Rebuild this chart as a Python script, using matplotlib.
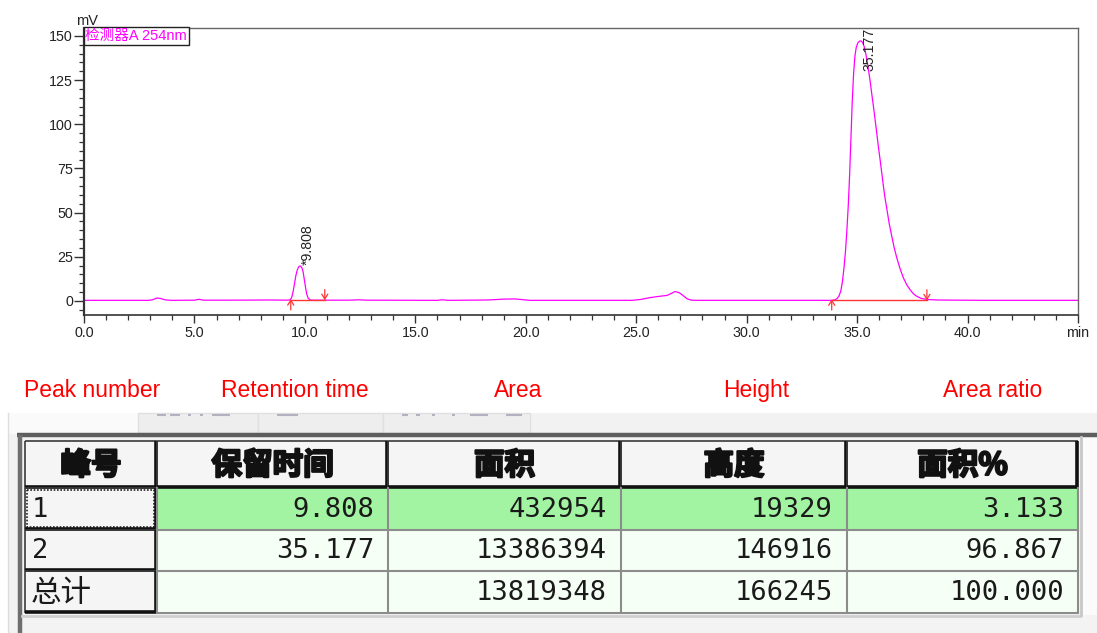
import matplotlib
matplotlib.use("Agg")
import matplotlib.pyplot as plt
import matplotlib.patheffects as pe
from matplotlib.patches import Rectangle
from matplotlib.ticker import MultipleLocator

plt.rcParams["font.family"] = ["Liberation Sans", "Noto Sans CJK SC"]

# peak table (detector A, 254 nm)
peak_no = ["1", "2", "总计"]
peak_rt = [9.808, 35.177]                 # min
peak_area = [432954, 13386394]
peak_height = [19329, 146916]             # uV
peak_area_pct = [3.133, 96.867]
total_area = 13819348
total_height = 166245
total_pct = 100.000

# integration marks: start / end of each peak (min)
peak_start = [9.36, 33.85]
peak_end = [10.90, 38.16]
peak_base = [0.4, 0.3]                    # mV

col_titles = ["峰号", "保留时间", "面积", "高度", "面积%"]
col_names_en = ["Peak number", "Retention time", "Area", "Height", "Area ratio"]

# detector trace (min, mV), apex points come from the peak table
trace_t = [0.0, 2.9, 3.1, 3.3, 3.45, 3.7, 4.0, 5.0, 5.2, 5.4, 6.5, 8.5,
           9.20, 9.32, 9.40, 9.47, 9.53, 9.59, 9.65, 9.71, 9.75,
           9.87, 9.92, 9.97, 10.03, 10.08, 10.15, 10.22, 10.35,
           12.0, 12.4, 12.8, 16.0, 16.2, 16.5, 18.3, 19.0, 19.5, 20.2,
           24.8, 25.2, 25.6, 26.0, 26.4, 26.6, 26.76, 26.95, 27.1, 27.3, 27.5, 27.8,
           33.85, 34.00, 34.10, 34.18, 34.26, 34.33, 34.40, 34.47, 34.53, 34.60,
           34.66, 34.72, 34.78, 34.84, 34.90, 34.96, 35.03, 35.10,
           35.25, 35.32, 35.40, 35.47, 35.53, 35.59, 35.66, 35.74, 35.82, 35.89,
           35.96, 36.04, 36.12, 36.19, 36.26, 36.34, 36.45, 36.57, 36.68, 36.80,
           36.95, 37.10, 37.25, 37.40, 37.55, 37.70, 37.90, 38.16, 38.60, 39.50,
           41.00, 45.00]
trace_mv = [0.3, 0.3, 0.6, 1.6, 1.4, 0.5, 0.3, 0.4, 0.9, 0.4, 0.4, 0.5,
            0.4, 0.5, 1.8, 5.5, 9.8, 14.2, 17.3, 19.1, 19.6,
            18.6, 16.4, 12.4, 7.6, 4.0, 1.5, 0.6, 0.4,
            0.4, 0.6, 0.4, 0.3, 0.6, 0.3, 0.5, 1.0, 1.1, 0.3,
            0.3, 0.8, 1.8, 2.5, 3.1, 4.3, 5.3, 4.6, 3.2, 1.2, 0.4, 0.3,
            0.3, 0.6, 1.4, 2.8, 5.5, 10.5, 18.0, 27.5, 38.5, 54.0,
            71.0, 92.0, 113.0, 128.5, 138.5, 143.5, 146.0, 147.0,
            146.3, 144.0, 139.5, 134.5, 129.5, 124.3, 117.5, 110.0, 102.0, 95.0,
            87.5, 80.0, 72.0, 65.0, 58.5, 52.5, 44.0, 36.5, 30.0, 24.2,
            18.0, 12.9, 9.0, 6.3, 4.0, 2.6, 1.4, 0.8, 0.5, 0.4,
            0.3, 0.3]

pts = list(zip(trace_t, trace_mv))
for rt, h, b in zip(peak_rt, peak_height, peak_base):
    pts.append((rt, b + h / 1000.0))
pts.sort()
t = [p[0] for p in pts]
mv = [p[1] for p in pts]

W, H = 1097, 633
fig = plt.figure(figsize=(W / 100, H / 100), dpi=100)

# ---- chromatogram ----
ax = fig.add_axes([84 / W, 1 - 315 / H, 994 / W, 287 / H])
ax.plot(t, mv, color="#FF00FF", lw=0.9, zorder=2)
ax.set_xlim(0, 45)
ax.set_ylim(-8, 154.5)

red = "#FF3535"
for s, e, b in zip(peak_start, peak_end, peak_base):
    ax.plot([s, e], [b, b], color=red, lw=1.0, zorder=3)
    ax.annotate("", xy=(s, b + 0.6), xytext=(s, b - 5.5),
                arrowprops=dict(arrowstyle="->,head_length=0.35,head_width=0.22",
                                color=red, lw=0.9, shrinkA=0, shrinkB=0))
    ax.annotate("", xy=(e, b), xytext=(e, b + 6.0),
                arrowprops=dict(arrowstyle="->,head_length=0.35,head_width=0.22",
                                color=red, lw=0.9, shrinkA=0, shrinkB=0))

label_offsets = [(5, 1), (6, -22)]
for i, (rt, h, b) in enumerate(zip(peak_rt, peak_height, peak_base)):
    txt = ("*" if i == 0 else "") + f"{rt:.3f}"
    ax.annotate(txt, (rt, b + h / 1000.0), xytext=label_offsets[i],
                textcoords="offset points", rotation=90, ha="center",
                va="bottom", fontsize=10.2, color="#222222")

ax.set_xticks(range(0, 46, 5))
ax.set_xticklabels([f"{v:.1f}" for v in range(0, 45, 5)] + ["min"])
ax.set_yticks(range(0, 151, 25))
ax.xaxis.set_minor_locator(MultipleLocator(1))
ax.yaxis.set_minor_locator(MultipleLocator(5))
ax.tick_params(axis="both", which="major", labelsize=10.3, colors="#333333",
               labelcolor="#222222", width=1.0)
ax.tick_params(axis="x", which="major", length=6, pad=2)
ax.tick_params(axis="y", which="major", length=7, pad=1)
ax.tick_params(which="minor", length=3.5, width=0.9, colors="#333333")
for side in ("top", "right"):
    ax.spines[side].set_color("#666666")
    ax.spines[side].set_linewidth(1.0)
ax.spines["left"].set_color("#333333")
ax.spines["left"].set_linewidth(1.6)
ax.spines["bottom"].set_color("#333333")
ax.spines["bottom"].set_linewidth(1.2)

ax.text(0.0015, 0.997, "检测器A 254nm", transform=ax.transAxes, ha="left", va="top",
        color="#FF00FF", fontsize=10.5,
        bbox=dict(boxstyle="square,pad=0.12", fc="white", ec="#222222", lw=1.0))
fig.text(76 / W, 1 - 25 / H, "mV", fontsize=10.5, color="#222222", va="baseline")

# ---- peak table panel ----
tb = fig.add_axes([0, 0, 1, 1], zorder=-1)
tb.set_xlim(0, W)
tb.set_ylim(H, 0)
tb.axis("off")

for x, name in zip([24, 221, 494, 723, 943], col_names_en):
    tb.text(x, 397, name, color="#FF0000", fontsize=16.5, ha="left", va="baseline")

tb.add_patch(Rectangle((8, 413), W - 8, H - 413, fc="#F2F2F2", ec="none"))
tb.add_patch(Rectangle((8, 413), 130, 21, fc="#FAFAFA", ec="none"))
tb.plot([7.5, 7.5], [413, H], color="#DDDDDD", lw=1)
for x0, x1 in [(138, 258), (258, 383), (383, 530)]:
    tb.add_patch(Rectangle((x0, 413), x1 - x0, 20, fc="#EEEEEE", ec="#E0E0E0", lw=1))
# clipped tab captions
for x0, x1 in [(157, 166), (170, 180), (188, 191), (200, 203), (212, 230),
               (277, 298), (402, 408), (416, 420), (432, 435), (452, 455),
               (470, 488), (506, 522)]:
    tb.plot([x0, x1], [415, 415], color="#6A6A88", lw=1.5, alpha=0.45,
            solid_capstyle="butt")

tb.add_patch(Rectangle((22, 437), W - 22, H - 437, fc="#F3F3F3", ec="none"))
tb.add_patch(Rectangle((1083, 437), W - 1083, 178, fc="#FBFBFB", ec="none"))
tb.plot([17, W], [435, 435], color="#5E5E5E", lw=3.2, solid_capstyle="butt")
tb.plot([20, 20], [435, H], color="#6E6E6E", lw=3.2, solid_capstyle="butt")
tb.plot([22, 1080], [615.5, 615.5], color="#D0D0D0", lw=2)
tb.plot([1081, 1081], [437, 615], color="#C8C8C8", lw=2)

col_x = [25, 157, 388, 621, 847, 1078]
row_y = [441, 488, 530, 571, 613]
row_fill = ["#A2F3A2", "#F5FFF5", "#F5FFF5"]


def raised_cell(x0, y0, x1, y1):
    tb.add_patch(Rectangle((x0, y0), x1 - x0, y1 - y0, fc="#F5F5F5", ec="none"))
    tb.plot([x0, x1], [y0, y0], color="#3A3A3A", lw=1.2, solid_capstyle="butt")
    tb.plot([x0, x0], [y0, y1], color="#3A3A3A", lw=1.2, solid_capstyle="butt")
    tb.plot([x0, x1], [y1 - 1, y1 - 1], color="#111111", lw=2.6, solid_capstyle="butt")
    tb.plot([x1 - 1, x1 - 1], [y0, y1], color="#111111", lw=2.6, solid_capstyle="butt")


heavy = [pe.withStroke(linewidth=1.6, foreground="#111111")]
for j in range(5):
    raised_cell(col_x[j], row_y[0], col_x[j + 1], row_y[1])
    tb.text((col_x[j] + col_x[j + 1]) / 2, (row_y[0] + row_y[1]) / 2 + 1, col_titles[j],
            ha="center", va="center", fontsize=22, fontweight="bold",
            family=["Noto Sans CJK SC"], color="#111111", path_effects=heavy)

for i in range(3):
    y0, y1 = row_y[i + 1], row_y[i + 2]
    tb.add_patch(Rectangle((col_x[1], y0), col_x[5] - col_x[1], y1 - y0,
                           fc=row_fill[i], ec="none"))
    raised_cell(col_x[0], y0, col_x[1], y1)
for y in row_y[2:]:
    tb.plot([col_x[1], col_x[5]], [y, y], color="#8C8C8C", lw=1.5)
for x in col_x[1:]:
    tb.plot([x, x], [row_y[1], row_y[4]], color="#8C8C8C", lw=1.5)
tb.add_patch(Rectangle((col_x[0] + 2, row_y[1] + 2), col_x[1] - col_x[0] - 5,
                       row_y[2] - row_y[1] - 5, fc="none", ec="#222222", lw=1.2,
                       linestyle=(0, (1, 1))))

rows = []
for i in range(2):
    rows.append([f"{peak_rt[i]:.3f}", str(peak_area[i]), str(peak_height[i]),
                 f"{peak_area_pct[i]:.3f}"])
rows.append(["", str(total_area), str(total_height), f"{total_pct:.3f}"])

for i, vals in enumerate(rows):
    yc = (row_y[i + 1] + row_y[i + 2]) / 2 + 1
    if i < 2:
        tb.text(32, yc, peak_no[i], ha="left", va="center", fontsize=19.5,
                family=["DejaVu Sans Mono"], color="#1A1A1A")
    else:
        tb.text(31, yc, peak_no[i], ha="left", va="center", fontsize=22,
                family=["Noto Sans CJK SC"], color="#1A1A1A")
    for j, v in enumerate(vals):
        tb.text(col_x[j + 2] - 14, yc, v, ha="right", va="center", fontsize=19.5,
                family=["DejaVu Sans Mono"], color="#1A1A1A")

fig.savefig("out.png", dpi=100)
